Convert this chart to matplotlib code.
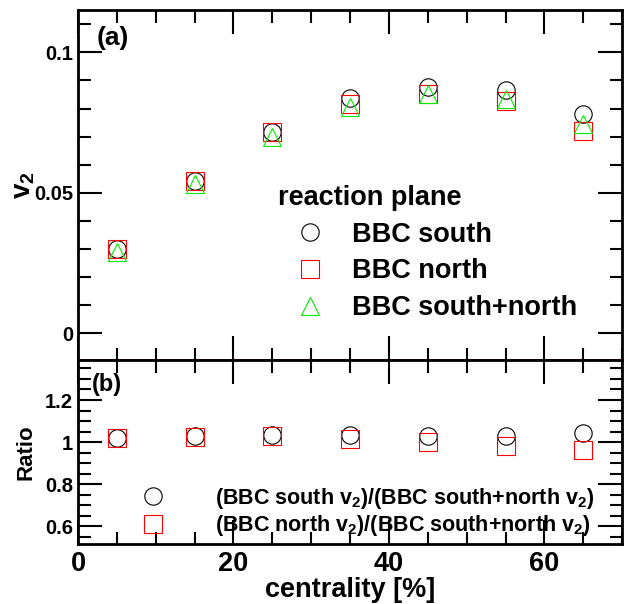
import matplotlib
matplotlib.use("Agg")
import matplotlib.pyplot as plt
from matplotlib.ticker import MultipleLocator

plt.rcParams['font.family'] = ['Liberation Sans', 'DejaVu Sans']
plt.rcParams['font.weight'] = 'bold'
plt.rcParams['axes.labelweight'] = 'bold'
plt.rcParams['mathtext.fontset'] = 'custom'
plt.rcParams['mathtext.rm'] = 'Liberation Sans:bold'
plt.rcParams['mathtext.it'] = 'Liberation Sans:bold'
plt.rcParams['mathtext.bf'] = 'Liberation Sans:bold'

centrality = [5, 15, 25, 35, 45, 55, 65]
v2_south = [0.0299, 0.0541, 0.0716, 0.0837, 0.0877, 0.0865, 0.0782]
v2_north = [0.0300, 0.0540, 0.0715, 0.0817, 0.0853, 0.0827, 0.0720]
v2_both = [0.0290, 0.0530, 0.0699, 0.0805, 0.0850, 0.0835, 0.0746]

ratio_south = [1.018, 1.029, 1.032, 1.034, 1.029, 1.030, 1.045]
ratio_north = [1.020, 1.026, 1.030, 1.016, 1.003, 0.984, 0.962]

fig = plt.figure(figsize=(6.24, 6.04), dpi=100)
ax1 = fig.add_axes([0.125, 0.404, 0.872, 0.579])
ax2 = fig.add_axes([0.125, 0.099, 0.872, 0.305])

ms = 12.5
mew = 0.8
ax1.plot(centrality, v2_south, 'o', ms=ms, mfc='none', mec='black', mew=mew, label='BBC south')
ax1.plot(centrality, v2_north, 's', ms=ms, mfc='none', mec='red', mew=mew, label='BBC north')
ax1.plot(centrality, v2_both, '^', ms=ms, mfc='none', mec='#00ee00', mew=mew, label='BBC south+north')

ax2.plot(centrality, ratio_south, 'o', ms=ms, mfc='none', mec='black', mew=mew,
         label='(BBC south v$_2$)/(BBC south+north v$_2$)')
ax2.plot(centrality, ratio_north, 's', ms=ms, mfc='none', mec='red', mew=mew,
         label='(BBC north v$_2$)/(BBC south+north v$_2$)')

for ax in (ax1, ax2):
    ax.set_xlim(0, 70)
    ax.xaxis.set_major_locator(MultipleLocator(20))
    ax.xaxis.set_minor_locator(MultipleLocator(5))
    ax.tick_params(which='both', direction='in', top=True, right=True, width=1.5)
    ax.tick_params(which='major', length=17)
    ax.tick_params(which='minor', length=9)
    for s in ax.spines.values():
        s.set_linewidth(2)

ax1.set_ylim(-0.0096, 0.115)
ax1.yaxis.set_major_locator(MultipleLocator(0.05))
ax1.yaxis.set_minor_locator(MultipleLocator(0.01))
ax1.set_yticks([0, 0.05, 0.1])
ax1.set_yticklabels(['0', '0.05', '0.1'], fontsize=14.5)
ax1.tick_params(axis='x', labelbottom=False)
ax1.set_ylabel('v$_2$', fontsize=20)
ax1.yaxis.set_label_coords(-0.075, 0.5)
ax1.text(0.034, 0.955, '(a)', transform=ax1.transAxes, fontsize=19, va='top')
ax1.spines['bottom'].set_color('#8b0000')

leg1 = ax1.legend(loc='upper left', bbox_to_anchor=(0.342, 0.54), frameon=False,
                  fontsize=19.5, title='reaction plane', title_fontsize=19.5,
                  handlelength=2.4, handletextpad=0.35, labelspacing=0.4, borderpad=0)
leg1._legend_box.align = 'left'

ax2.set_ylim(0.516, 1.39)
ax2.yaxis.set_major_locator(MultipleLocator(0.2))
ax2.yaxis.set_minor_locator(MultipleLocator(0.05))
ax2.set_yticks([0.6, 0.8, 1.0, 1.2])
ax2.set_yticklabels(['0.6', '0.8', '1', '1.2'], fontsize=14.5)
ax2.set_xticks([0, 20, 40, 60])
ax2.set_xticklabels(['0', '20', '40', '60'], fontsize=19.5)
ax2.tick_params(axis='x', which='major', pad=5)
ax2.set_xlabel('centrality [%]', fontsize=19.5, labelpad=0)
ax2.set_ylabel('Ratio', fontsize=16)
ax2.yaxis.set_label_coords(-0.077, 0.5)
ax2.text(0.025, 0.93, '(b)', transform=ax2.transAxes, fontsize=17, va='top')

ax2.legend(loc='lower left', bbox_to_anchor=(0.078, -0.025), frameon=False,
           fontsize=15.5, handlelength=2.0, handletextpad=1.9, labelspacing=0.1, borderpad=0)

fig.savefig('out.png', dpi=100)
